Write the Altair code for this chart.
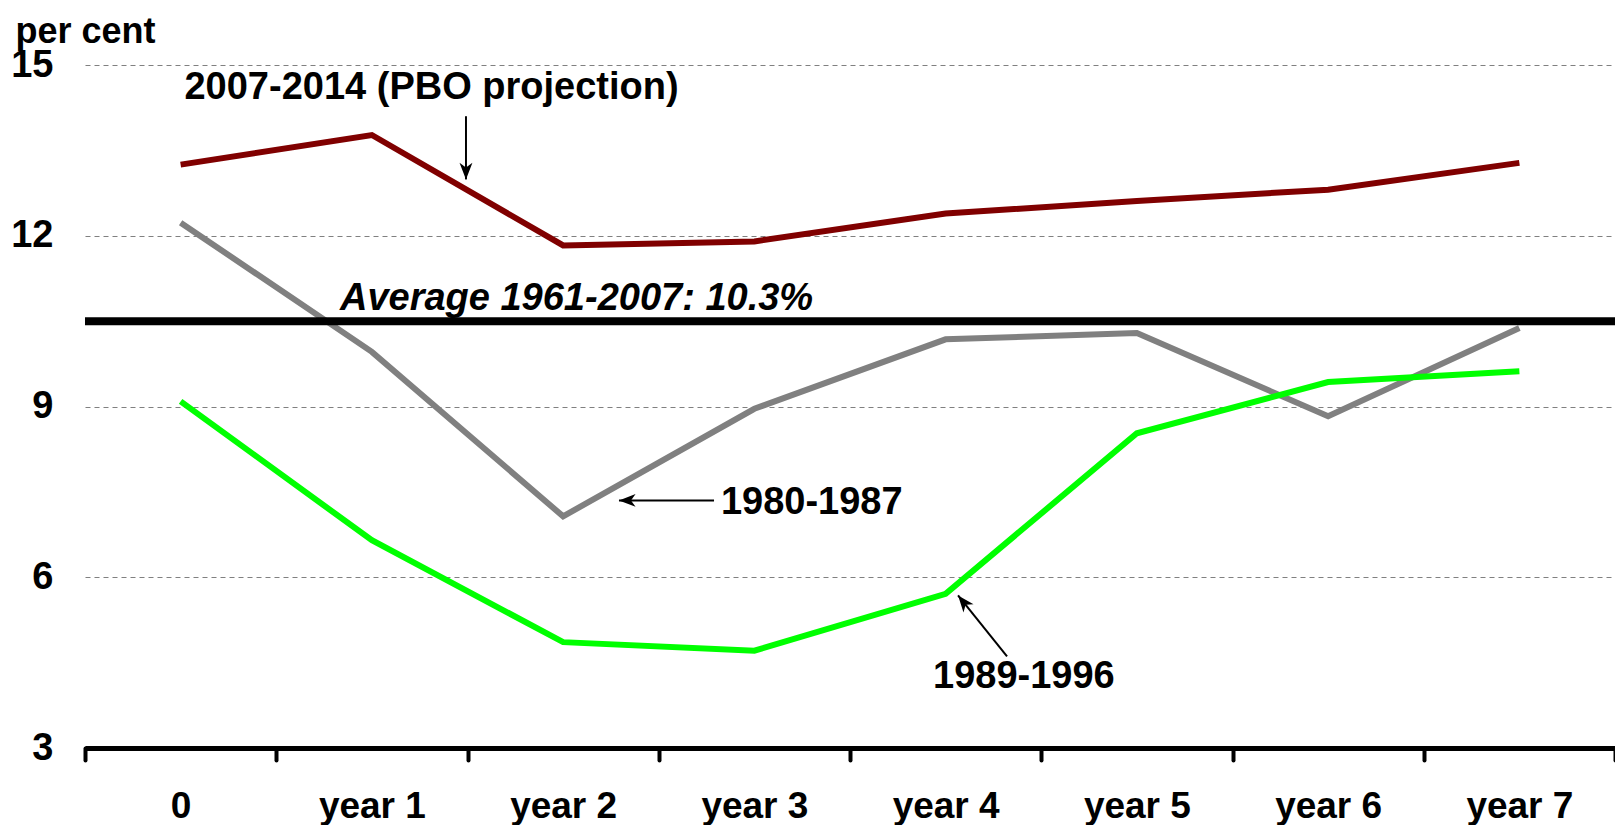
import altair as alt
import pandas as pd

# ---------------- data ----------------
categories = ["0", "year 1", "year 2", "year 3", "year 4", "year 5", "year 6", "year 7"]
series_names = ["2007-2014 (PBO projection)", "1980-1987", "1989-1996"]
series_colors = ["#800000", "#808080", "#00FF00"]
pbo_2007_2014 = [13.25, 13.77, 11.83, 11.90, 12.39, 12.61, 12.81, 13.28]
rec_1980_1987 = [12.23, 9.96, 7.07, 8.96, 10.18, 10.29, 8.83, 10.38]
rec_1989_1996 = [9.09, 6.65, 4.86, 4.71, 5.71, 8.53, 9.43, 9.62]
average_value = 10.5          # level at which the average line is drawn in the picture
average_label = "Average 1961-2007: 10.3%"
y_ticks = [3, 6, 9, 12, 15]
y_title = "per cent"

# annotation texts and their anchor positions (data units)
label_text = ["2007-2014 (PBO projection)", "1980-1987", "1989-1996"]
label_x = [0.02, 2.825, 3.934]
label_y = [14.40, 7.12, 4.05]
avg_label_x = 0.833
avg_label_y = 10.70

# arrows: tail (x, y) -> head (x2, y2)
arrow_x = [1.492, 2.789, 4.321]
arrow_y = [14.10, 7.35, 4.61]
arrow_x2 = [1.492, 2.292, 4.065]
arrow_y2 = [12.99, 7.35, 5.68]
arrow_angle = [180, 270, 321]

# ---------------- tables ----------------
rows = []
for name, vals in zip(series_names, [pbo_2007_2014, rec_1980_1987, rec_1989_1996]):
    for i, v in enumerate(vals):
        rows.append({"x": i, "value": v, "series": name})
lines_df = pd.DataFrame(rows)

labels_df = pd.DataFrame({"x": label_x, "y": label_y, "text": label_text})
avg_df = pd.DataFrame({"x": [-0.5], "x2": [len(categories) - 0.5], "y": [average_value]})
avg_text_df = pd.DataFrame({"x": [avg_label_x], "y": [avg_label_y], "text": [average_label]})
arrows_df = pd.DataFrame({"x": arrow_x, "y": arrow_y, "x2": arrow_x2, "y2": arrow_y2, "angle": arrow_angle})

FONT = "Liberation Sans"
FS = 38
W, H = 1530, 683
band = W / len(categories)

# tick at each band boundary; the label of the band to its right is drawn offset by half a band
label_expr = ""
for i, c in enumerate(categories):
    label_expr += f"datum.value < {i} ? '{c}' : "
label_expr += "''"

x_scale = alt.Scale(domain=[-0.5, len(categories) - 0.5], nice=False, zero=False)
y_scale = alt.Scale(domain=[3, 15], nice=False, zero=False)

x_axis = alt.Axis(
    values=[i - 0.5 for i in range(len(categories) + 1)],
    labelExpr=label_expr,
    labelOffset=band / 2,
    labelFont=FONT, labelFontSize=37, labelFontWeight="bold", labelColor="black",
    labelBaseline="alphabetic", labelPadding=57, labelOverlap=False, labelFlush=False,
    domainColor="black", domainWidth=5,
    tickColor="black", tickWidth=4, tickSize=12, tickCap="round",
    grid=False, title=None,
)
y_axis = alt.Axis(
    values=y_ticks, format="d",
    labelFont=FONT, labelFontSize=FS, labelFontWeight="bold", labelColor="black",
    labelPadding=32, labelBaseline="middle",
    ticks=False, domain=False,
    grid=True, gridDash=[5, 4], gridColor="#808080", gridWidth=1.2,
    title=y_title, titleAngle=0, titleAlign="left", titleBaseline="alphabetic",
    titleX=-70, titleY=-23, titleFont=FONT, titleFontSize=36, titleFontWeight="bold",
    titleColor="black",
)

lines = alt.Chart(lines_df).mark_line(strokeWidth=6, strokeJoin="miter").encode(
    x=alt.X("x:Q", scale=x_scale, axis=x_axis),
    y=alt.Y("value:Q", scale=y_scale, axis=y_axis),
    color=alt.Color("series:N", scale=alt.Scale(domain=series_names, range=series_colors), legend=None),
    order=alt.Order("x:Q"),
)

avg_rule = alt.Chart(avg_df).mark_rule(strokeWidth=8, color="black").encode(
    x=alt.X("x:Q", scale=x_scale),
    x2="x2:Q",
    y=alt.Y("y:Q", scale=y_scale),
)

avg_text = alt.Chart(avg_text_df).mark_text(
    align="left", baseline="alphabetic", font=FONT, fontSize=FS,
    fontWeight="bold", fontStyle="italic", color="black",
).encode(
    x=alt.X("x:Q", scale=x_scale),
    y=alt.Y("y:Q", scale=y_scale),
    text="text:N",
)

labels = alt.Chart(labels_df).mark_text(
    align="left", baseline="alphabetic", font=FONT, fontSize=FS,
    fontWeight="bold", color="black",
).encode(
    x=alt.X("x:Q", scale=x_scale),
    y=alt.Y("y:Q", scale=y_scale),
    text="text:N",
)

shafts = alt.Chart(arrows_df).mark_rule(strokeWidth=2, color="black").encode(
    x=alt.X("x:Q", scale=x_scale),
    y=alt.Y("y:Q", scale=y_scale),
    x2="x2:Q",
    y2="y2:Q",
)

ARROW_PATH = "M0,0L0.7,1.8L0,1.3L-0.7,1.8Z"
heads = alt.Chart(arrows_df).mark_point(
    shape=ARROW_PATH, filled=True, size=340, color="black", opacity=1, strokeWidth=0,
).encode(
    x=alt.X("x2:Q", scale=x_scale),
    y=alt.Y("y2:Q", scale=y_scale),
    angle=alt.Angle("angle:Q", scale=None),
)

chart = alt.layer(lines, avg_rule, avg_text, labels, shafts, heads).properties(
    width=W, height=H,
    autosize=alt.AutoSizeParams(type="none"),
    padding={"left": 77, "top": 57, "right": 0, "bottom": 77},
    background="white",
).configure_view(stroke=None)

chart.save("out.html", embed_options={"renderer": "svg", "actions": False})
